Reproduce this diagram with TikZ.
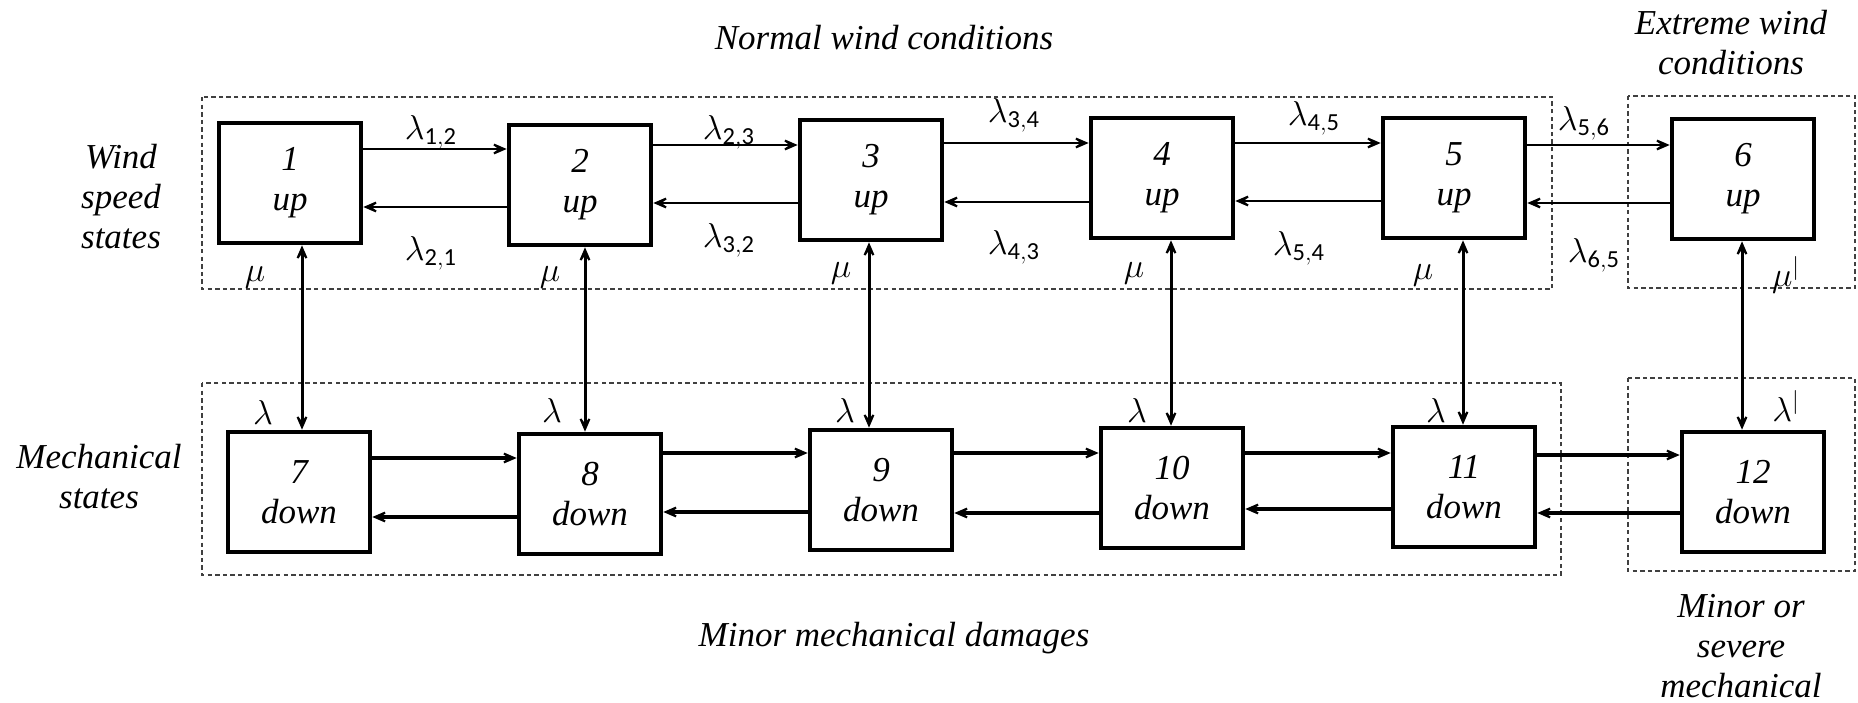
\documentclass[tikz,border=0pt]{standalone}
\usepackage{fontspec}
\setmainfont{Liberation Serif}
\setsansfont{Carlito}
\usetikzlibrary{arrows.meta}
\begin{document}
\begin{tikzpicture}[x=0.5pt,y=-0.5pt,
  every node/.style={font=\fontsize{17.5}{20}\selectfont\itshape, align=center, inner sep=0pt},
  state/.style={draw, line width=2.3pt, minimum width=71pt, minimum height=60pt},
  frame/.style={draw=black!75, line width=0.7pt, dash pattern=on 2.2pt off 1.6pt},
  tipA/.tip={Stealth[length=11pt,width=9.5pt,inset=7pt]},
  arrT/.style={line width=1.4pt, -tipA},
  arrB/.style={line width=1.6pt, -tipA},
  dbl/.style={line width=1.5pt, tipA-tipA}
]
\useasboundingbox (0,0) rectangle (1858,702);

% group frames
\draw[frame] (202,97) rectangle (1552,289);
\draw[frame] (1628,96) rectangle (1855,288);
\draw[frame] (202,383) rectangle (1561,575);
\draw[frame] (1628,378) rectangle (1855,571);

% titles
\node (tnormal) at (884,38) {Normal wind conditions};
\node (textreme) at (1731,43) {Extreme wind\\conditions};
\node (twind) at (121,197) {Wind\\speed\\states};
\node (tmech) at (99,477) {Mechanical\\states};
\node (tminor) at (894,638) {Minor mechanical damages};
\node (tsevere) at (1741,646) {Minor or\\severe\\mechanical};

% states
\node[state] (b1) at (290,183) {1\\up};
\node[state] (b2) at (580,185) {2\\up};
\node[state] (b3) at (871,180) {3\\up};
\node[state] (b4) at (1162,178) {4\\up};
\node[state] (b5) at (1454,178) {5\\up};
\node[state] (b6) at (1743,179) {6\\up};
\node[state] (b7) at (299,492) {7\\down};
\node[state] (b8) at (590,494) {8\\down};
\node[state] (b9) at (881,490) {9\\down};
\node[state] (b10) at (1172,488) {10\\down};
\node[state] (b11) at (1464,487) {11\\down};
\node[state] (b12) at (1753,492) {12\\down};

% top horizontal transitions
\draw[arrT] (b1.east |- 0,149) -- (b2.west |- 0,149);
\draw[arrT] (b2.west |- 0,207) -- (b1.east |- 0,207);
\draw[arrT] (b2.east |- 0,145) -- (b3.west |- 0,145);
\draw[arrT] (b3.west |- 0,203) -- (b2.east |- 0,203);
\draw[arrT] (b3.east |- 0,143) -- (b4.west |- 0,143);
\draw[arrT] (b4.west |- 0,202) -- (b3.east |- 0,202);
\draw[arrT] (b4.east |- 0,143) -- (b5.west |- 0,143);
\draw[arrT] (b5.west |- 0,201) -- (b4.east |- 0,201);
\draw[arrT] (b5.east |- 0,145) -- (b6.west |- 0,145);
\draw[arrT] (b6.west |- 0,203) -- (b5.east |- 0,203);

% bottom horizontal transitions
\draw[arrB] (b7.east |- 0,458) -- (b8.west |- 0,458);
\draw[arrB] (b8.west |- 0,517) -- (b7.east |- 0,517);
\draw[arrB] (b8.east |- 0,453) -- (b9.west |- 0,453);
\draw[arrB] (b9.west |- 0,512) -- (b8.east |- 0,512);
\draw[arrB] (b9.east |- 0,453) -- (b10.west |- 0,453);
\draw[arrB] (b10.west |- 0,513) -- (b9.east |- 0,513);
\draw[arrB] (b10.east |- 0,453) -- (b11.west |- 0,453);
\draw[arrB] (b11.west |- 0,509) -- (b10.east |- 0,509);
\draw[arrB] (b11.east |- 0,455) -- (b12.west |- 0,455);
\draw[arrB] (b12.west |- 0,513) -- (b11.east |- 0,513);

% vertical transitions
\coordinate (v1) at (302,0);
\coordinate (v2) at (585,0);
\coordinate (v3) at (869,0);
\coordinate (v4) at (1171,0);
\coordinate (v5) at (1463,0);
\coordinate (v6) at (1742,0);
\draw[dbl] (b1.south -| v1) -- (b7.north -| v1);
\draw[dbl] (b2.south -| v2) -- (b8.north -| v2);
\draw[dbl] (b3.south -| v3) -- (b9.north -| v3);
\draw[dbl] (b4.south -| v4) -- (b10.north -| v4);
\draw[dbl] (b5.south -| v5) -- (b11.north -| v5);
\draw[dbl] (b6.south -| v6) -- (b12.north -| v6);

% rate labels
\node (l12) at (431,132) {$\lambda_{\mathsf{1,2}}$};
\node (l21) at (431,253) {$\lambda_{\mathsf{2,1}}$};
\node (l23) at (729,132) {$\lambda_{\mathsf{2,3}}$};
\node (l32) at (729,240) {$\lambda_{\mathsf{3,2}}$};
\node (l34) at (1014,115) {$\lambda_{\mathsf{3,4}}$};
\node (l43) at (1014,247) {$\lambda_{\mathsf{4,3}}$};
\node (l45) at (1314,118) {$\lambda_{\mathsf{4,5}}$};
\node (l54) at (1299,248) {$\lambda_{\mathsf{5,4}}$};
\node (l56) at (1584,123) {$\lambda_{\mathsf{5,6}}$};
\node (l65) at (1594,255) {$\lambda_{\mathsf{6,5}}$};

\node (m1) at (255,277) {$\mu$};
\node (m2) at (550,277) {$\mu$};
\node (m3) at (841,273) {$\mu$};
\node (m4) at (1134,273) {$\mu$};
\node (m5) at (1423,275) {$\mu$};
\node (m6) at (1786,275) {$\mu^{|}$};

\node (d1) at (263,412) {$\lambda$};
\node (d2) at (552,410) {$\lambda$};
\node (d3) at (845,410) {$\lambda$};
\node (d4) at (1137,410) {$\lambda$};
\node (d5) at (1436,410) {$\lambda$};
\node (d6) at (1786,406) {$\lambda^{|}$};
\end{tikzpicture}
\end{document}
